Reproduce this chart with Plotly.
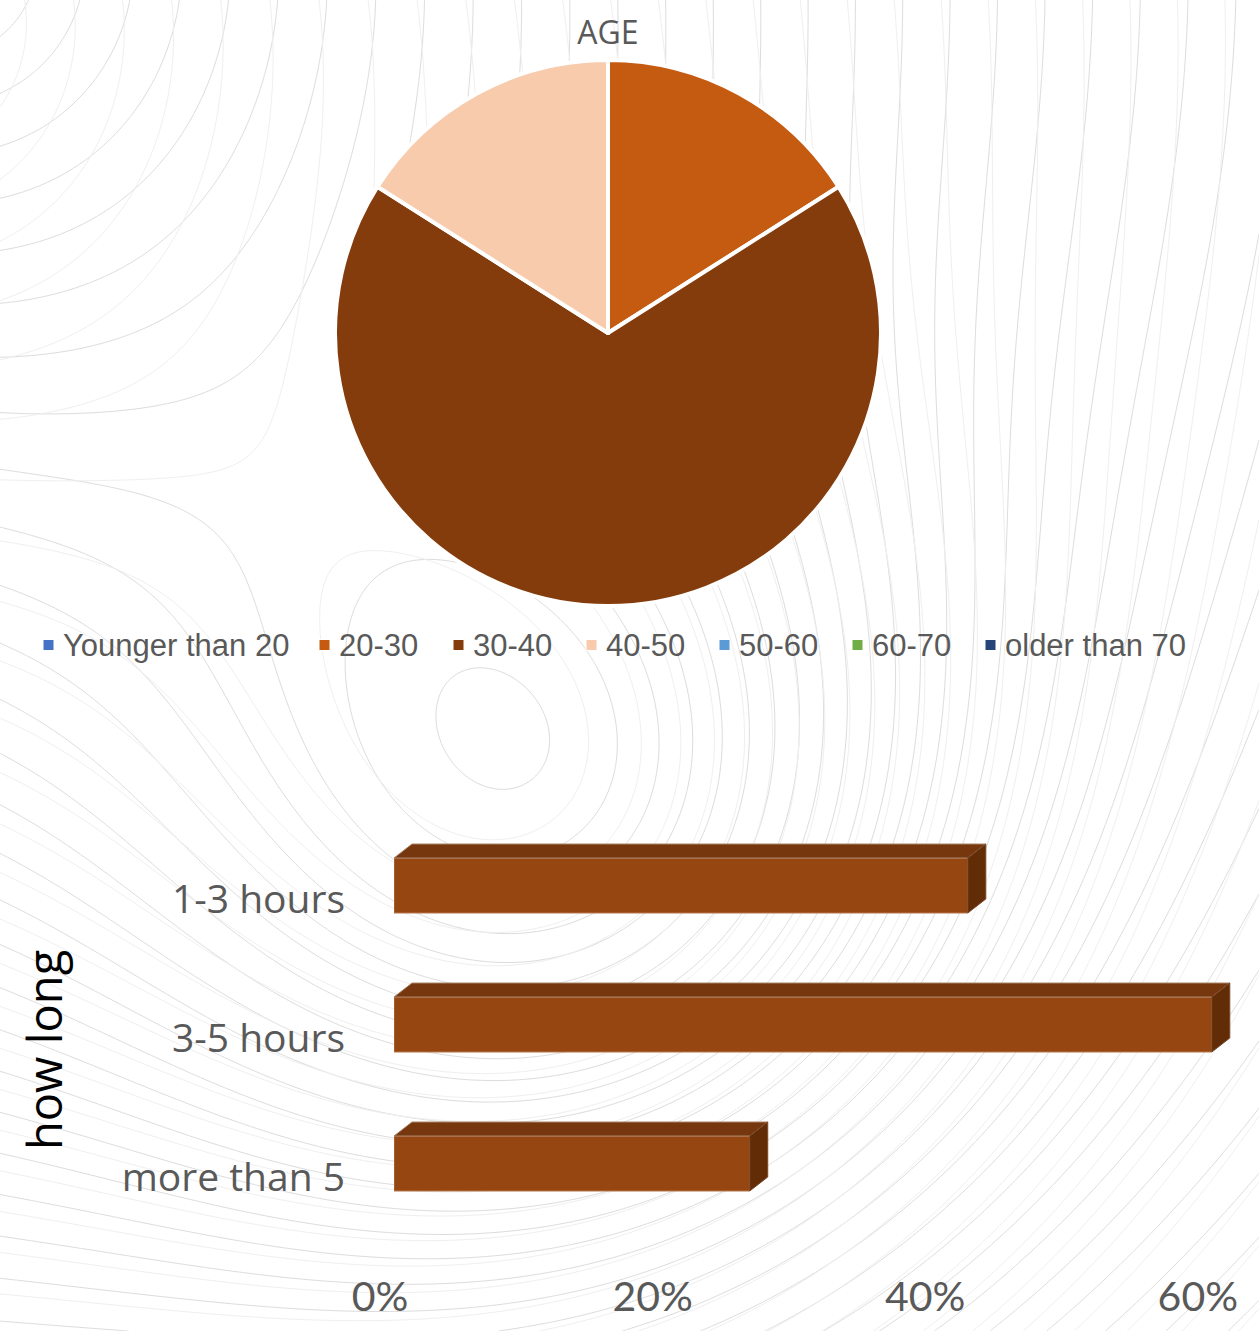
"""Recreates the AGE pie and the how long 3D-look bar chart on one page."""

import numpy as np
import plotly.graph_objects as go

# Pie data
age_groups = ["Younger than 20", "20-30", "30-40", "40-50", "50-60", "60-70", "older than 70"]
age_shares = [0, 16, 68, 16, 0, 0, 0]
age_colors = ["#4472C4", "#C55A11", "#843C0C", "#F8CBAD", "#5B9BD5", "#70AD47", "#264478"]

# Bar data
durations = ["1-3 hours", "3-5 hours", "more than 5"]
duration_shares = [42.1, 60, 26.1]
pct_ticks = [0, 20, 40, 60]

FIG_W = 1259
FIG_H = 1331
GRAY = "#595959"

# Bar geometry: px per percent / per category, and the fake depth of the boxes
PX_PER_PCT = 13.63
PX_PER_CAT = 139
FRONT_HEIGHT = 55
DEPTH_X = 18 / PX_PER_PCT
DEPTH_Y = 14 / PX_PER_CAT
HALF = FRONT_HEIGHT / PX_PER_CAT / 2
PCT_MAX = 62

# Left edge of each hand-placed legend entry's swatch, in px
LEGEND_X = [43, 319, 453, 586, 719, 852, 985]
LEGEND_Y = 645


def px_domain(start, end, size, flip=False):
    """Turn a pixel span into an axis domain."""
    if flip:
        return [1 - end / size, 1 - start / size]
    return [start / size, end / size]


def swirl(cx, cy, ax, ay, pit, spread):
    """Decorative background field: rings around (cx, cy) dented by a pit at (ax, ay)."""
    rings = np.hypot(xx - cx, yy - cy)
    return rings - pit * np.exp(-((xx - ax) ** 2 + (yy - ay) ** 2) / (2 * spread ** 2))


fig = go.Figure()

# Decorative background lines only, not chart data
gx = np.linspace(0, FIG_W, 320)
gy = np.linspace(0, FIG_H, 340)
xx, yy = np.meshgrid(gx, gy)
layers = [
    (swirl(-60, -40, 574, 842, 650, 280), "#DCDCDC"),
    (swirl(-120, 20, 584, 852, 620, 300), "#EFEFEF"),
]
for field, color in layers:
    fig.add_trace(go.Contour(
        x=gx, y=gy, z=field,
        contours=dict(coloring="none", start=0, end=3000, size=48),
        line=dict(color=color, width=1),
        showscale=False, showlegend=False, hoverinfo="skip",
        xaxis="x", yaxis="y",
    ))

# Top and side faces of the boxes, built from the values
for i, value in enumerate(duration_shares):
    fig.add_trace(go.Scatter(
        x=[0, DEPTH_X, value + DEPTH_X, value, 0],
        y=[i - HALF, i - HALF - DEPTH_Y, i - HALF - DEPTH_Y, i - HALF, i - HALF],
        mode="lines", fill="toself", fillcolor="#76370E",
        line=dict(color="#A98468", width=1),
        showlegend=False, hoverinfo="skip", xaxis="x2", yaxis="y2",
    ))
    fig.add_trace(go.Scatter(
        x=[value, value + DEPTH_X, value + DEPTH_X, value, value],
        y=[i - HALF, i - HALF - DEPTH_Y, i + HALF - DEPTH_Y, i + HALF, i - HALF],
        mode="lines", fill="toself", fillcolor="#622C07",
        line=dict(color="#7A4A28", width=1),
        showlegend=False, hoverinfo="skip", xaxis="x2", yaxis="y2",
    ))

fig.add_trace(go.Bar(
    x=duration_shares,
    y=list(range(len(durations))),
    orientation="h",
    width=FRONT_HEIGHT / PX_PER_CAT,
    marker=dict(color="#964711", line=dict(color="#B5774D", width=1)),
    showlegend=False,
    xaxis="x2", yaxis="y2",
))

# Invisible carrier so the shifted tick label axes get drawn
fig.add_trace(go.Scatter(
    x=pct_ticks, y=[0, 1, 2, 2],
    mode="markers", marker=dict(opacity=0),
    showlegend=False, hoverinfo="skip", xaxis="x3", yaxis="y3",
))

fig.add_trace(go.Pie(
    labels=age_groups,
    values=age_shares,
    sort=False,
    direction="clockwise",
    rotation=0,
    textinfo="none",
    hoverinfo="label+percent",
    showlegend=False,
    marker=dict(colors=age_colors, line=dict(color="white", width=4)),
    domain=dict(x=px_domain(335, 881, FIG_W), y=px_domain(60, 606, FIG_H, flip=True)),
))

# Legend entries sit at uneven gaps, which the built-in legend can't do
legend_shapes = []
legend_texts = []
for left, group, color in zip(LEGEND_X, age_groups, age_colors):
    legend_shapes.append(dict(
        type="rect", xref="paper", yref="paper",
        x0=left / FIG_W, x1=(left + 11) / FIG_W,
        y0=1 - (LEGEND_Y + 5.5) / FIG_H, y1=1 - (LEGEND_Y - 5.5) / FIG_H,
        fillcolor=color, line=dict(color="white", width=1),
    ))
    legend_texts.append(dict(
        text=group, xref="paper", yref="paper",
        x=(left + 21) / FIG_W, y=1 - LEGEND_Y / FIG_H,
        showarrow=False, xanchor="left", yanchor="middle", xshift=-3,
        font=dict(family="Liberation Sans", size=31, color=GRAY),
    ))

hidden = dict(visible=False, showgrid=False, zeroline=False)
fig.update_layout(
    width=FIG_W,
    height=FIG_H,
    margin=dict(l=0, r=0, t=0, b=0, autoexpand=False),
    paper_bgcolor="white",
    plot_bgcolor="rgba(0,0,0,0)",
    showlegend=False,
    title=dict(
        text="AGE", x=608 / FIG_W, xanchor="center", y=1 - 33 / FIG_H, yanchor="middle",
        font=dict(family="Open Sans", size=32, color=GRAY),
    ),
    xaxis=dict(hidden, domain=[0, 1], range=[0, FIG_W]),
    yaxis=dict(hidden, domain=[0, 1], range=[FIG_H, 0]),
    xaxis2=dict(
        hidden, domain=px_domain(394, 394 + PCT_MAX * PX_PER_PCT, FIG_W),
        range=[0, PCT_MAX], anchor="y2",
    ),
    yaxis2=dict(
        hidden, domain=px_domain(885.5 - 0.5 * PX_PER_CAT, 885.5 + 2.5 * PX_PER_CAT, FIG_H, flip=True),
        range=[2.5, -0.5], anchor="x2",
    ),
    xaxis3=dict(
        domain=px_domain(380, 380 + PCT_MAX * PX_PER_PCT, FIG_W),
        range=[0, PCT_MAX], anchor="free", position=1 - 1269 / FIG_H,
        showgrid=False, zeroline=False, showline=False, ticks="",
        tickvals=pct_ticks, ticktext=[f"{t}%" for t in pct_ticks],
        tickfont=dict(family="Lato", size=41, color=GRAY),
    ),
    yaxis3=dict(
        domain=px_domain(899.5 - 0.5 * PX_PER_CAT, 899.5 + 2.5 * PX_PER_CAT, FIG_H, flip=True),
        range=[2.5, -0.5], anchor="free", position=345 / FIG_W,
        showgrid=False, zeroline=False, showline=False, ticks="",
        tickvals=list(range(len(durations))), ticktext=durations,
        tickfont=dict(family="Open Sans", size=39, color=GRAY),
    ),
    shapes=legend_shapes,
    annotations=legend_texts + [dict(
        text="how long", xref="paper", yref="paper", x=44 / FIG_W, y=1 - 1050 / FIG_H,
        textangle=-90, showarrow=False, xanchor="center", yanchor="middle",
        font=dict(family="Open Sans", size=47, color="black"),
    )],
)

fig.write_html(
    "out.html",
    config=dict(displayModeBar=False),
    post_script="document.body.style.margin = '0';",
)
